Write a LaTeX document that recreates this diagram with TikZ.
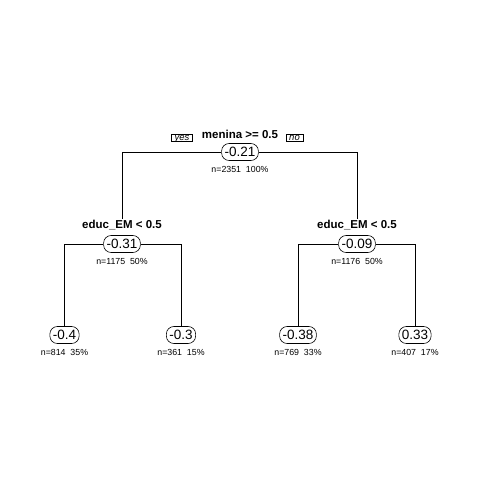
\documentclass[tikz,border=0pt]{standalone}
\usepackage{fontspec}
\setmainfont{Liberation Sans}
\begin{document}
\begin{tikzpicture}[x=1pt,y=-1pt,
  valbox/.style={draw=black, fill=white, rounded corners=7.5pt, line width=0.6pt,
    minimum height=17pt, inner xsep=3pt, inner ysep=0pt,
    font=\fontsize{13.5}{14}\selectfont},
  splitlab/.style={font=\bfseries\fontsize{11.5}{12}\selectfont, inner sep=1pt},
  nlab/.style={font=\fontsize{8.8}{9}\selectfont, inner sep=0pt},
  yn/.style={draw=black, line width=0.5pt, inner xsep=3pt, inner ysep=0pt,
    text height=6pt, text depth=1pt,
    font=\itshape\fontsize{9.5}{10}\selectfont},
  conn/.style={draw=black, line width=0.6pt}]
\useasboundingbox (0,0) rectangle (480,480);
% split labels
\node[splitlab] (lab0) at (240,134) {menina >= 0.5};
\node[yn] (yes) at (182,138) {yes};
\node[yn] (no) at (294.5,138) {no};
\node[splitlab] (lab1) at (122,225) {educ\_EM < 0.5};
\node[splitlab] (lab2) at (357,225) {educ\_EM < 0.5};
% value boxes
\node[valbox] (root) at (240,152) {-0.21};
\node[valbox] (l1) at (122,244) {-0.31};
\node[valbox] (r1) at (357,244) {-0.09};
\node[valbox] (ll) at (64.5,335) {-0.4};
\node[valbox] (lr) at (181,335) {-0.3};
\node[valbox] (rl) at (298,335) {-0.38};
\node[valbox] (rr) at (415,335) {0.33};
% connectors
\draw[conn] (root.west) -| (lab1.north);
\draw[conn] (root.east) -| (lab2.north);
\draw[conn] (l1.west) -| (ll.north);
\draw[conn] (l1.east) -| (lr.north);
\draw[conn] (r1.west) -| (rl.north);
\draw[conn] (r1.east) -| (rr.north);
% n labels
\node[nlab] (n0) at (240,169) {n=2351\ \ 100\%};
\node[nlab] (n1) at (122,261) {n=1175\ \ 50\%};
\node[nlab] (n2) at (357,261) {n=1176\ \ 50\%};
\node[nlab] (n3) at (64.5,352.5) {n=814\ \ 35\%};
\node[nlab] (n4) at (181,352.5) {n=361\ \ 15\%};
\node[nlab] (n5) at (298,352.5) {n=769\ \ 33\%};
\node[nlab] (n6) at (415,352.5) {n=407\ \ 17\%};
\end{tikzpicture}
\end{document}
